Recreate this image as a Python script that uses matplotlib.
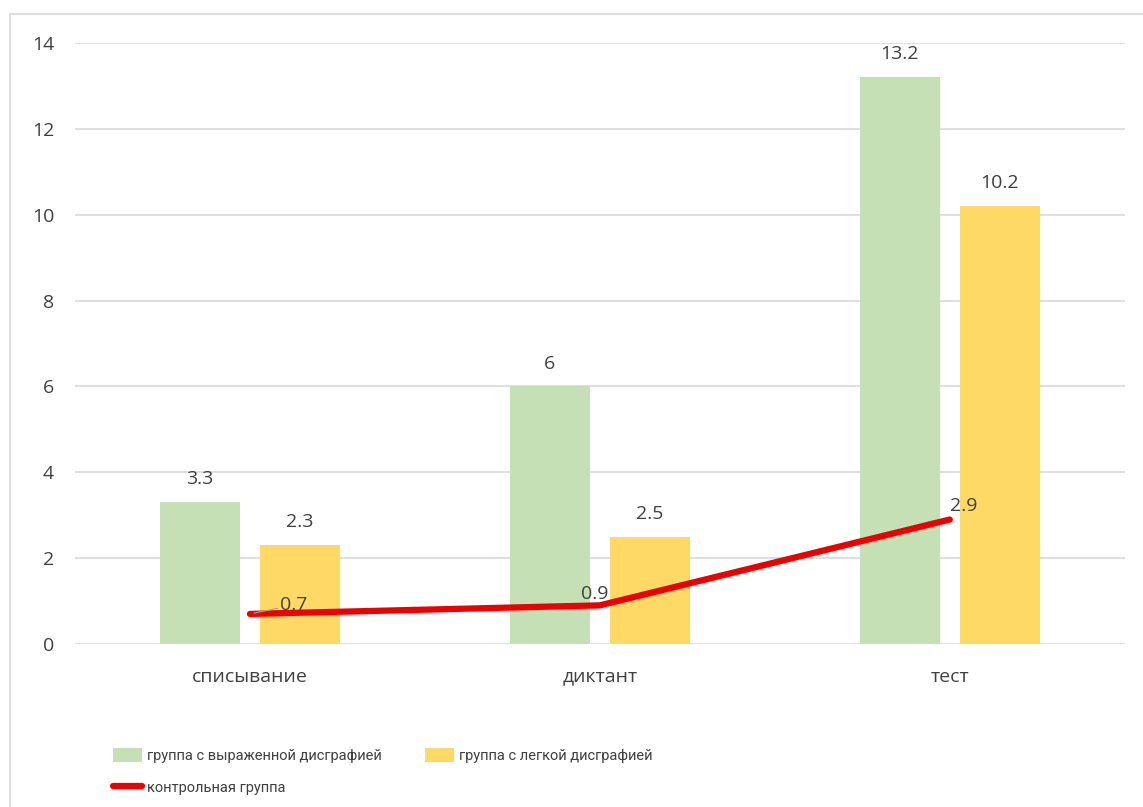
import matplotlib.pyplot as plt
import numpy as np
from matplotlib.patches import Rectangle

plt.rcParams['font.family'] = ['Open Sans', 'DejaVu Sans']

# данные
categories = ["списывание", "диктант", "тест"]
severe = [3.3, 6, 13.2]
mild = [2.3, 2.5, 10.2]
control = [0.7, 0.9, 2.9]
names = ["группа с выраженной дисграфией", "группа с легкой дисграфией", "контрольная группа"]

green = "#c5e0b4"
yellow = "#ffd966"
red = "#ee0000"
txt = "#404040"
fs = 14

fig = plt.figure(figsize=(11.43, 8.07), dpi=100)
ax = fig.add_axes([0.0656, 0.202, 0.9184, 0.7447])

# рамка диаграммы
fig.patches.append(Rectangle((10 / 1143, -0.1), 1.2, 1 - 14 / 807 + 0.1, transform=fig.transFigure,
                             fill=False, edgecolor="#d9d9d9", linewidth=1.2))

x = np.arange(len(categories))
w = 0.229
gap = 0.057
b1 = ax.bar(x - (w + gap) / 2, severe, w, color=green, label=names[0], zorder=2)
b2 = ax.bar(x + (w + gap) / 2, mild, w, color=yellow, label=names[1], zorder=2)
ln, = ax.plot(x, control, color=red, linewidth=4.5, solid_capstyle="round", zorder=3, label=names[2])

for bars in (b1, b2):
    for r in bars:
        h = r.get_height()
        ax.annotate(f"{h:g}", (r.get_x() + r.get_width() / 2, h), xytext=(0, 10),
                    textcoords="offset points", ha="center", va="bottom", fontsize=fs, color=txt)

# подписи линии
ax.annotate(f"{control[0]:g}", (x[0], control[0]), xytext=(22, 0), textcoords="offset points",
            ha="left", va="bottom", fontsize=fs, color=txt,
            arrowprops=dict(arrowstyle="-", color="#a6a6a6", lw=0.8, shrinkA=0, shrinkB=3))
ax.annotate(f"{control[1]:g}", (x[1], control[1]), xytext=(-4, 2), textcoords="offset points",
            ha="center", va="bottom", fontsize=fs, color=txt)
ax.annotate(f"{control[2]:g}", (x[2], control[2]), xytext=(0, 3), textcoords="offset points",
            ha="left", va="bottom", fontsize=fs, color=txt)

ax.set_xlim(-0.5, 2.5)
ax.set_ylim(0, 14)
ax.set_yticks(range(0, 15, 2))
ax.set_xticks(x)
ax.set_xticklabels(categories)
ax.tick_params(axis="both", length=0, labelsize=fs, labelcolor=txt)
ax.tick_params(axis="x", pad=17)
ax.tick_params(axis="y", pad=15)
ax.grid(axis="y", color="#d9d9d9", linewidth=1.2, zorder=0)
ax.set_axisbelow(True)
for s in ax.spines.values():
    s.set_visible(False)

handles = [b1, ln, b2]
labels = [names[0], names[2], names[1]]
fig.legend(handles, labels, loc="upper left", bbox_to_anchor=(0.094, 0.08), ncol=2, frameon=False,
           prop={"family": ["Roboto", "Open Sans"], "size": 10.5},
           labelcolor=txt, handlelength=2.0, handleheight=1.1, handletextpad=0.3, columnspacing=3.0,
           borderaxespad=0, labelspacing=1.15)

fig.savefig("out.png", dpi=100)
